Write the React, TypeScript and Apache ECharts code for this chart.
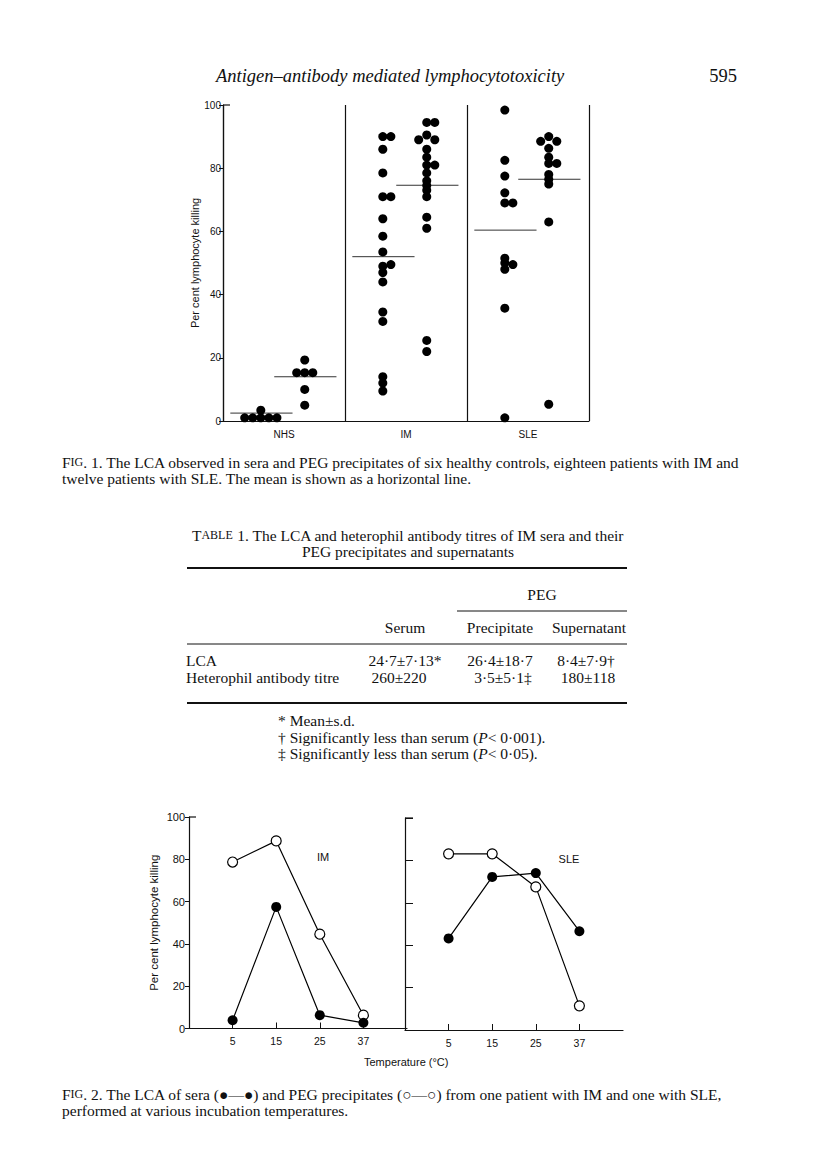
import React, { useEffect, useRef } from 'react';
import * as echarts from 'echarts';

// ---------- Fig. 1 data ----------
const groups = ['NHS', 'IM', 'SLE'];
const yTicksFig1 = [0, 20, 40, 60, 80, 100];

const nhsSera = [1, 1, 1, 1, 1, 3.4];
const nhsSeraSlots = [-2, -1, 0, 1, 2, 0];
const nhsPeg = [19.3, 15.3, 15.3, 15.3, 10, 5];
const nhsPegSlots = [0, -1, 0, 1, 0, 0];

const imSera = [90, 90, 86, 78.5, 71, 71, 64, 58.5, 53.5, 49, 49.5, 47, 44, 34.5, 31.5, 14, 12, 9.5];
const imSeraSlots = [0, 1, 0, 0, 0, 1, 0, 0, 0, 0, 1, 0, 0, 0, 0, 0, 0, 0];
const imPeg = [94.5, 94.5, 90.5, 89, 89, 86, 83.5, 81, 81, 78.5, 76, 74.5, 73, 71, 64.5, 61, 25.5, 22];
const imPegSlots = [0, 1, 0, -1, 1, 0, 0, 0, 1, 0, 0, 0, 0, 0, 0, 0, 0, 0];

const sleSera = [98.4, 82.5, 77.5, 72.2, 69, 69, 51.5, 50, 49.5, 48, 35.7, 1];
const sleSeraSlots = [0, 0, 0, 0, 0, 1, 0, 0, 1, 0, 0, 0];
const slePeg = [90, 88.5, 88.5, 86.3, 83.5, 81.5, 81.5, 78, 76.5, 75, 63, 5.3];
const slePegSlots = [0, -1, 1, 0, 0, 0, 1, 0, 0, 0, 0, 0];

const seraMeans = [2.5, 52, 60.4];
const pegMeans = [14, 74.6, 76.5];

// ---------- Fig. 2 data ----------
const temps = ['5', '15', '25', '37'];
const imSeraTemp = [3.9, 57.5, 6.3, 2.7];
const imPegTemp = [78.7, 88.7, 44.6, 6.3];
const sleSeraTemp = [43.2, 72.2, 74.0, 46.6];
const slePegTemp = [83.1, 83.1, 67.5, 11.4];

// ---------- Table data ----------
const tableRows = ['LCA', 'Heterophil antibody titre'];
const serumCol = ['24·7±7·13*', '260±220'];
const precipCol = ['26·4±18·7', '3·5±5·1‡'];
const superCol = ['8·4±7·9†', '180±118'];

const SERIF = '"Liberation Serif", "Times New Roman", serif';
const SANS = '"Liberation Sans", Arial, sans-serif';

const SERA_COL = 0.31;
const PEG_COL = 0.67;
const SLOT = 0.066;

function pts(vals: number[], slots: number[], g: number, col: number) {
  return vals.map((v, i) => [g + col + slots[i] * SLOT, v]);
}

const BODY = 15.5;
const SMALL = 12;

function txt(x: number, y: number, text: string, opts: any = {}) {
  return {
    type: 'text',
    x,
    y,
    silent: true,
    style: {
      text,
      font: opts.font || `${BODY}px ${SERIF}`,
      fill: '#111',
      textAlign: opts.align || 'left',
      textVerticalAlign: 'middle',
      rich: opts.rich,
    },
  };
}

function ln(x1: number, y1: number, x2: number, y2: number, w = 1) {
  return {
    type: 'line',
    silent: true,
    shape: { x1, y1, x2, y2 },
    style: { stroke: '#111', lineWidth: w },
  };
}

export default function App() {
  const ref = useRef<HTMLDivElement>(null);

  useEffect(() => {
    if (!ref.current) return;
    const chart = echarts.init(ref.current, undefined, { renderer: 'svg' });

    const seraData = [
      ...pts(nhsSera, nhsSeraSlots, 0, SERA_COL),
      ...pts(imSera, imSeraSlots, 1, SERA_COL),
      ...pts(sleSera, sleSeraSlots, 2, SERA_COL),
    ];
    const pegData = [
      ...pts(nhsPeg, nhsPegSlots, 0, PEG_COL),
      ...pts(imPeg, imPegSlots, 1, PEG_COL),
      ...pts(slePeg, slePegSlots, 2, PEG_COL),
    ];

    const meanSeries: any[] = [];
    groups.forEach((_, g) => {
      [
        [SERA_COL, seraMeans[g]],
        [PEG_COL, pegMeans[g]],
      ].forEach(([col, m]) => {
        meanSeries.push({
          type: 'line',
          xAxisIndex: 0,
          yAxisIndex: 0,
          data: [
            [g + col - 0.25, m],
            [g + col + 0.26, m],
          ],
          symbol: 'none',
          lineStyle: { color: '#333', width: 1 },
          z: 1,
        });
      });
    });

    const richBody = {
      s: { fontSize: SMALL, fontFamily: SERIF, fill: '#111' },
      i: { fontSize: BODY, fontFamily: SERIF, fontStyle: 'italic', fill: '#111' },
    };

    const tickInterval = (idx: number) => idx >= 1 && idx <= 4;
    const catData = ['', ...temps, ''];

    const rowY = [660, 677];
    const graphics: any[] = [
      // page header
      txt(216, 76, 'Antigen–antibody mediated lymphocytotoxicity', {
        font: `italic 18.5px ${SERIF}`,
      }),
      txt(737, 76, '595', { font: `18.5px ${SERIF}`, align: 'right' }),
      // fig 1 cap
      ln(223, 105, 230, 105, 1.2),
      // fig 1 caption
      txt(62, 462, 'F{s|IG}. 1. The LCA observed in sera and PEG precipitates of six healthy controls, eighteen patients with IM and', {
        rich: richBody,
      }),
      txt(62, 478, 'twelve patients with SLE. The mean is shown as a horizontal line.'),
      // table
      txt(408, 535, 'T{s|ABLE} 1. The LCA and heterophil antibody titres of IM sera and their', {
        rich: richBody,
        align: 'center',
      }),
      txt(408, 551, 'PEG precipitates and supernatants', { align: 'center' }),
      ln(187, 568, 627, 568, 1.8),
      txt(542, 594, 'PEG', { align: 'center' }),
      ln(457, 611, 627, 611, 1),
      txt(405, 627, 'Serum', { align: 'center' }),
      txt(500, 627, 'Precipitate', { align: 'center' }),
      txt(589, 627, 'Supernatant', { align: 'center' }),
      ln(187, 644, 627, 644, 1),
      ...tableRows.map((r, i) => txt(186, rowY[i], r)),
      ...serumCol.map((v, i) => txt(i === 0 ? 405 : 399, rowY[i], v, { align: 'center' })),
      ...precipCol.map((v, i) => txt(i === 0 ? 500 : 503, rowY[i], v, { align: 'center' })),
      ...superCol.map((v, i) => txt(i === 0 ? 586 : 588, rowY[i], v, { align: 'center' })),
      ln(187, 703, 627, 703, 1.8),
      txt(278, 720, '* Mean±s.d.'),
      txt(278, 737, '† Significantly less than serum ({i|P}< 0·001).', { rich: richBody }),
      txt(278, 753, '‡ Significantly less than serum ({i|P}< 0·05).', { rich: richBody }),
      // fig 2 caps
      ln(189, 817, 196, 817, 1.2),
      ln(405, 818, 413, 818, 1.2),
      txt(323, 857, 'IM', { font: `11px ${SANS}`, align: 'center' }),
      txt(569, 859, 'SLE', { font: `11px ${SANS}`, align: 'center' }),
      txt(364, 1062, 'Temperature (°C)', { font: `11px ${SANS}` }),
      // fig 2 caption
      txt(62, 1094, 'F{s|IG}. 2. The LCA of sera (●—●) and PEG precipitates (○—○) from one patient with IM and one with SLE,', {
        rich: richBody,
      }),
      txt(62, 1110, 'performed at various incubation temperatures.'),
    ];

    const axisText = { color: '#111', fontFamily: SANS };

    const option: any = {
      animation: false,
      backgroundColor: '#fff',
      grid: [
        { left: 223, top: 105, width: 366, height: 316 },
        { left: 189, top: 817, width: 218, height: 211.5 },
        { left: 405, top: 818, width: 218, height: 212 },
      ],
      xAxis: [
        {
          type: 'value',
          gridIndex: 0,
          min: 0,
          max: 3,
          interval: 1,
          axisLine: { show: true, lineStyle: { color: '#111', width: 1.2 } },
          axisTick: { show: false },
          axisLabel: { show: false },
          splitLine: { show: true, lineStyle: { color: '#111', width: 1.2 } },
        },
        {
          type: 'category',
          gridIndex: 0,
          data: groups,
          position: 'bottom',
          axisLine: { show: false },
          axisTick: { show: false },
          axisLabel: { ...axisText, fontSize: 10, margin: 8 },
          splitLine: { show: false },
        },
        {
          type: 'category',
          gridIndex: 1,
          data: catData,
          boundaryGap: false,
          axisLine: { show: true, lineStyle: { color: '#111', width: 1.2 } },
          axisTick: { show: true, inside: true, length: 6, interval: tickInterval, lineStyle: { color: '#111' } },
          axisLabel: { ...axisText, fontSize: 10.5, margin: 7, interval: 0 },
          splitLine: { show: false },
        },
        {
          type: 'category',
          gridIndex: 2,
          data: catData,
          boundaryGap: false,
          axisLine: { show: true, lineStyle: { color: '#111', width: 1.2 } },
          axisTick: { show: true, inside: true, length: 6, interval: tickInterval, lineStyle: { color: '#111' } },
          axisLabel: { ...axisText, fontSize: 10.5, margin: 7, interval: 0 },
          splitLine: { show: false },
        },
      ],
      yAxis: [
        {
          type: 'value',
          gridIndex: 0,
          min: yTicksFig1[0],
          max: yTicksFig1[yTicksFig1.length - 1],
          interval: 20,
          axisLine: { show: true, lineStyle: { color: '#111', width: 1.2 } },
          axisTick: { show: true, length: 4, lineStyle: { color: '#111' } },
          axisLabel: { ...axisText, fontSize: 10, margin: 2 },
          splitLine: { show: false },
          name: 'Per cent lymphocyte killing',
          nameLocation: 'middle',
          nameGap: 18,
          nameTextStyle: { ...axisText, fontSize: 11 },
        },
        {
          type: 'value',
          gridIndex: 1,
          min: 0,
          max: 100,
          interval: 20,
          axisLine: { show: true, lineStyle: { color: '#111', width: 1.2 } },
          axisTick: { show: true, length: 4, lineStyle: { color: '#111' } },
          axisLabel: { ...axisText, fontSize: 11, margin: 4 },
          splitLine: { show: false },
          name: 'Per cent lymphocyte killing',
          nameLocation: 'middle',
          nameGap: 29,
          nameTextStyle: { ...axisText, fontSize: 11.5 },
        },
        {
          type: 'value',
          gridIndex: 2,
          min: 0,
          max: 100,
          interval: 20,
          axisLine: { show: true, lineStyle: { color: '#111', width: 1.2 } },
          axisTick: { show: true, inside: true, length: 8, lineStyle: { color: '#111' } },
          axisLabel: { show: false },
          splitLine: { show: false },
        },
      ],
      series: [
        {
          type: 'scatter',
          name: 'Sera',
          xAxisIndex: 0,
          yAxisIndex: 0,
          data: seraData,
          symbol: 'circle',
          symbolSize: 9,
          itemStyle: { color: '#000', opacity: 1 },
          z: 3,
        },
        {
          type: 'scatter',
          name: 'PEG',
          xAxisIndex: 0,
          yAxisIndex: 0,
          data: pegData,
          symbol: 'circle',
          symbolSize: 9,
          itemStyle: { color: '#000', opacity: 1 },
          z: 3,
        },
        ...meanSeries,
        {
          type: 'line',
          xAxisIndex: 2,
          yAxisIndex: 1,
          data: temps.map((t, i) => [t, imPegTemp[i]]),
          symbol: 'circle',
          symbolSize: 10,
          itemStyle: { color: '#fff', borderColor: '#000', borderWidth: 1.2 },
          lineStyle: { color: '#000', width: 1.2 },
          z: 3,
        },
        {
          type: 'line',
          xAxisIndex: 2,
          yAxisIndex: 1,
          data: temps.map((t, i) => [t, imSeraTemp[i]]),
          symbol: 'circle',
          symbolSize: 10,
          itemStyle: { color: '#000' },
          lineStyle: { color: '#000', width: 1.2 },
          z: 4,
        },
        {
          type: 'line',
          xAxisIndex: 3,
          yAxisIndex: 2,
          data: temps.map((t, i) => [t, slePegTemp[i]]),
          symbol: 'circle',
          symbolSize: 10,
          itemStyle: { color: '#fff', borderColor: '#000', borderWidth: 1.2 },
          lineStyle: { color: '#000', width: 1.2 },
          z: 3,
        },
        {
          type: 'line',
          xAxisIndex: 3,
          yAxisIndex: 2,
          data: temps.map((t, i) => [t, sleSeraTemp[i]]),
          symbol: 'circle',
          symbolSize: 10,
          itemStyle: { color: '#000' },
          lineStyle: { color: '#000', width: 1.2 },
          z: 4,
        },
      ],
      graphic: graphics,
    };

    chart.setOption(option);
    return () => chart.dispose();
  }, []);

  return (
    <div
      ref={ref}
      style={{ position: 'absolute', left: 0, top: 0, width: 816, height: 1171, background: '#fff' }}
    />
  );
}
